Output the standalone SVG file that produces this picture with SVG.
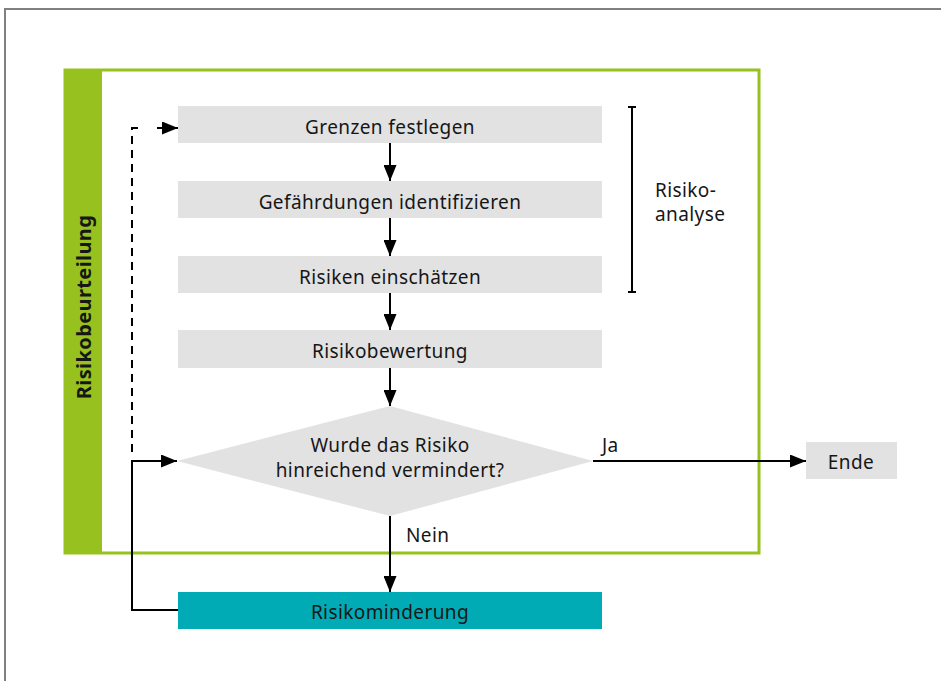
<svg xmlns="http://www.w3.org/2000/svg" width="941" height="681" viewBox="0 0 941 681">
  <style>
    .lbl { font-family: "Noto Sans", "Liberation Sans", sans-serif; font-size: 19px; letter-spacing: 0.4px; fill: #161616; }
    .step { fill: #e2e2e2; }
    .line { stroke: #000; stroke-width: 2; fill: none; }
  </style>
  <defs>
    <marker id="arr" viewBox="0 0 16 13" refX="16" refY="6.5" markerWidth="16" markerHeight="13" markerUnits="userSpaceOnUse" orient="auto">
      <path d="M0,0 L16,6.5 L0,13 Z" fill="#000"/>
    </marker>
  </defs>
  <rect width="941" height="681" fill="#fff"/>

  <!-- outer frame -->
  <rect x="5" y="9" width="950" height="700" fill="none" stroke="#808080" stroke-width="2"/>

  <!-- Risikobeurteilung frame -->
  <g id="risikobeurteilung">
    <rect x="65" y="70" width="694" height="483" fill="none" stroke="#97c11f" stroke-width="3"/>
    <rect x="64" y="69" width="38" height="485" fill="#97c11f"/>
    <text class="lbl" transform="translate(91,307) rotate(-90)" text-anchor="middle" font-weight="bold" style="font-size:20px;letter-spacing:0.4px">Risikobeurteilung</text>
  </g>

  <g id="grenzen">
    <rect class="step" x="178" y="106" width="424" height="37"/>
    <text class="lbl" x="390" y="134" text-anchor="middle">Grenzen festlegen</text>
  </g>
  <g id="gefaehrdungen">
    <rect class="step" x="178" y="181" width="424" height="37"/>
    <text class="lbl" x="390" y="209" text-anchor="middle">Gefährdungen identifizieren</text>
  </g>
  <g id="einschaetzen">
    <rect class="step" x="178" y="256" width="424" height="37"/>
    <text class="lbl" x="390" y="284" text-anchor="middle">Risiken einschätzen</text>
  </g>
  <g id="bewertung">
    <rect class="step" x="178" y="330" width="424" height="38"/>
    <text class="lbl" x="390" y="358" text-anchor="middle">Risikobewertung</text>
  </g>
  <g id="entscheidung">
    <polygon points="390,406 593,461 390,516 177,461" fill="#e2e2e2"/>
    <text class="lbl" x="390" y="452" text-anchor="middle">Wurde das Risiko</text>
    <text class="lbl" x="390" y="477" text-anchor="middle">hinreichend vermindert?</text>
  </g>
  <g id="ende">
    <rect class="step" x="806" y="442" width="91" height="37"/>
    <text class="lbl" x="851" y="469" text-anchor="middle">Ende</text>
  </g>
  <g id="minderung">
    <rect x="178" y="592" width="424" height="37" fill="#00abb5"/>
    <text class="lbl" x="390" y="619" text-anchor="middle">Risikominderung</text>
  </g>
  <g id="risikoanalyse">
    <path class="line" d="M632,107 V292 M628,107 H636 M628,292 H636"/>
    <text class="lbl" x="655" y="197">Risiko-</text>
    <text class="lbl" x="655" y="221">analyse</text>
  </g>

  <g id="connectors">
    <path class="line" d="M390,143 V181" marker-end="url(#arr)"/>
    <path class="line" d="M390,218 V256" marker-end="url(#arr)"/>
    <path class="line" d="M390,293 V330" marker-end="url(#arr)"/>
    <path class="line" d="M390,368 V406" marker-end="url(#arr)"/>
    <path class="line" d="M593,461 H806" marker-end="url(#arr)"/>
    <text class="lbl" x="602" y="452">Ja</text>
    <path class="line" d="M390,516 V592" marker-end="url(#arr)"/>
    <text class="lbl" x="406" y="542">Nein</text>
    <path class="line" d="M178,610 H132 V461 H177" marker-end="url(#arr)"/>
    <path class="line" d="M132,452 V128 H141" stroke-dasharray="8,6"/>
    <path class="line" d="M157,128 H178" marker-end="url(#arr)"/>
  </g>
</svg>
